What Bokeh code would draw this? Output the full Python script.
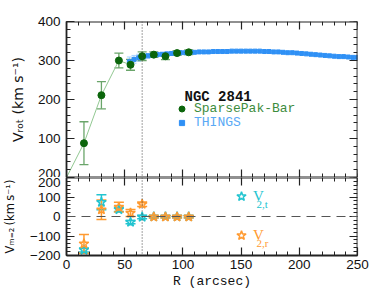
import numpy as np
from bokeh.plotting import figure
from bokeh.models import (Range1d, LinearAxis, SingleIntervalTicker, ColumnDataSource,
                          Whisker, TeeHead, Span, Label, Legend, LegendItem,
                          CustomJSTickFormatter)
from bokeh.layouts import column
from bokeh.embed import file_html
from bokeh.resources import INLINE

# ---------------- data ----------------
# SparsePak-Bar rotation curve
R_sp = [15, 30, 45, 55, 65, 75, 85, 95, 105]
V_sp = [88, 211, 300, 289, 311, 315, 311, 319, 321]
E_sp = [55, 35, 19, 14, 11, 7, 9, 6, 6]
# model line starts at the origin
R_line = [0] + R_sp
V_line = [0] + V_sp

# THINGS rotation curve
R_th = [54, 58, 62, 66, 70, 74, 78, 82, 86, 90, 94, 98, 102, 106, 110, 114, 118, 122,
        126, 130, 134, 138, 142, 146, 150, 154, 158, 162, 166, 170, 174, 178, 182, 186,
        190, 194, 198, 202, 206, 210, 214, 218, 222, 226, 230, 234, 238, 242, 246, 250]
V_th = [297, 303, 307, 310, 312, 314, 315, 316, 317, 318, 319, 320, 320, 321, 321, 322,
        322, 322, 323, 323, 323, 323, 324, 324, 324, 324, 324, 324, 324, 323, 323, 322,
        322, 321, 320, 320, 319, 318, 317, 316, 315, 314, 313, 312, 311, 310, 310, 309,
        308, 308]
E_th = [12, 10, 9, 8, 6, 5, 4, 4, 3, 3, 3, 3, 3, 3, 3, 3, 3, 3, 3, 3, 3, 3, 3, 3, 3,
        3, 3, 3, 3, 3, 3, 3, 3, 3, 3, 3, 3, 3, 3, 3, 3, 3, 3, 3, 3, 3, 3, 3, 3, 3]

# m=2 harmonic amplitudes
R_m2 = [15, 30, 45, 55, 65, 75, 85, 95, 105]
V2t = [-172, 73, 36, -29, -3, -1, -1, -1, -1]
E2t = [10, 38, 10, 8, 9, 5, 5, 5, 5]
V2r = [-140, 35, 48, 18, 63, -2, -2, -2, -2]
E2r = [48, 50, 25, 18, 12, 6, 6, 6, 6]

R_bar = 65  # dotted vertical marker

# ---------------- layout constants ----------------
FW, FHT, FHB = 291, 156, 78
ML, MR, MT, MB = 63, 20, 21, 38
X0, X1 = 0, 250
YT0, YT1 = 0, 400
YB0, YB1 = -200, 200
PX_L = ML
PY_T = MT
PY_M = PY_T + FHT
PY_B = PY_M + FHB


def rx(px):
    return X0 + (px - PX_L) * (X1 - X0) / FW


def ty(py):
    return YT1 - (py - PY_T) * (YT1 - YT0) / FHT


def by(py):
    return YB1 - (py - PY_M) * (YB1 - YB0) / FHB


AX = "#222222"
GREEN = "#0b650b"
GREEN_ERR = "#6aa56a"
GREEN_LINE = "#92c892"
GREEN_TXT = "#3d8c3d"
BLUE = "#2f90f5"
BLUE_ERR = "#a6d2ff"
BLUE_TXT = "#5aa9f5"
CYAN = "#22c4d0"
ORANGE = "#ff9a30"


def style_axis(ax, labels, interval, fixed=None):
    ax.ticker = SingleIntervalTicker(interval=interval, num_minor_ticks=5)
    ax.axis_line_color = AX
    ax.axis_line_width = 1.8
    ax.major_tick_line_color = AX
    ax.minor_tick_line_color = AX
    ax.major_tick_line_width = 1.2
    ax.minor_tick_line_width = 1
    ax.major_tick_in = 8
    ax.major_tick_out = 0
    ax.minor_tick_in = 4
    ax.minor_tick_out = 0
    if labels:
        ax.major_label_text_font = "Liberation Sans"
        ax.major_label_text_font_size = "13.5px"
        ax.major_label_text_color = "#111111"
    else:
        ax.formatter = CustomJSTickFormatter(code="return ''")
        ax.major_label_standoff = 0
    if fixed is not None:
        ax.fixed_location = fixed
    return ax


def make_fig(fh, y0, y1, mt, mb):
    p = figure(frame_width=FW, frame_height=fh, x_range=Range1d(X0, X1),
               y_range=Range1d(y0, y1), x_axis_location=None, y_axis_location=None,
               output_backend="svg", toolbar_location=None,
               min_border_left=ML, min_border_right=MR, min_border_top=mt,
               min_border_bottom=mb, outline_line_color=None,
               background_fill_color="white", border_fill_color="white")
    p.grid.visible = False
    return p


def hlabel(p, conv, px, py, text, size, color, font, style="normal"):
    p.add_layout(Label(x=rx(px), y=conv(py), text=text, text_align="left",
                       text_baseline="middle", text_font=font, text_font_size=size,
                       text_color=color, text_font_style=style))


def ytitle(ax, text, size, standoff):
    ax.axis_label = text
    ax.axis_label_text_font = "DejaVu Sans"
    ax.axis_label_text_font_size = size
    ax.axis_label_text_font_style = "normal"
    ax.axis_label_text_color = "#111111"
    ax.axis_label_standoff = standoff


# ---------------- top panel ----------------
top = make_fig(FHT, YT0, YT1, MT, 0)
axl = style_axis(LinearAxis(), True, 100)
axl.major_label_standoff = 6
axl.major_label_overrides = {0: "200"}
ytitle(axl, "V\u1d63\u2092\u209c (km s\u207b\u00b9)", "14px", 9)
top.add_layout(axl, "left")
top.add_layout(style_axis(LinearAxis(), False, 100, X1), "right")
top.add_layout(style_axis(LinearAxis(), False, 50, YT1), "above")
top.add_layout(style_axis(LinearAxis(), False, 50, YT0), "below")

top.add_layout(Span(location=R_bar, dimension="height", line_color="#444444",
                    line_dash="1 2", line_width=1))

top.line(R_line, V_line, line_color=GREEN_LINE, line_width=1)

src_th = ColumnDataSource(dict(R=R_th, V=V_th,
                               lo=np.array(V_th) - np.array(E_th),
                               up=np.array(V_th) + np.array(E_th)))
top.add_layout(Whisker(source=src_th, base="R", lower="lo", upper="up",
                       line_color=BLUE_ERR, line_width=1,
                       upper_head=TeeHead(size=5, line_color=BLUE_ERR, line_width=1),
                       lower_head=TeeHead(size=5, line_color=BLUE_ERR, line_width=1)))
r_th = top.scatter("R", "V", source=src_th, marker="square", size=4,
                   fill_color=BLUE, line_color=BLUE)

src_sp = ColumnDataSource(dict(R=R_sp, V=V_sp,
                               lo=np.array(V_sp) - np.array(E_sp),
                               up=np.array(V_sp) + np.array(E_sp)))
top.add_layout(Whisker(source=src_sp, base="R", lower="lo", upper="up",
                       line_color=GREEN_ERR, line_width=1.3,
                       upper_head=TeeHead(size=9, line_color=GREEN_ERR, line_width=1.3),
                       lower_head=TeeHead(size=9, line_color=GREEN_ERR, line_width=1.3)))
r_sp = top.scatter("R", "V", source=src_sp, marker="circle", size=7,
                   fill_color=GREEN, line_color=GREEN)

hlabel(top, ty, 181, 96, "NGC 2841", "14px", "#111111", "Liberation Mono", "bold")


def mk_legend(item_label, rend, color, x, y, gw, gh, standoff, font, size):
    return Legend(items=[LegendItem(label=item_label, renderers=[rend])],
                  location=(x, y), label_text_color=color, label_text_font=font,
                  label_text_font_size=size, glyph_width=gw, glyph_height=gh,
                  label_height=12, label_standoff=standoff, padding=0, margin=0,
                  spacing=0, border_line_alpha=0, background_fill_alpha=0)


top.add_layout(mk_legend("SparsePak-Bar", r_sp, GREEN_TXT, 108, 61, 15, 15, 5,
                         "Liberation Mono", "13px"), "center")
top.add_layout(mk_legend("THINGS", r_th, BLUE_TXT, 109, 47, 13, 13, 6,
                         "Liberation Mono", "13px"), "center")

# ---------------- bottom panel ----------------
bot = make_fig(FHB, YB0, YB1, 0, MB)
bl = style_axis(LinearAxis(), True, 100)
bl.major_label_standoff = 6
bl.major_label_overrides = {-200: "\u2212200", -100: "\u2212100"}
ytitle(bl, "V\u2098\u208c\u2082\u2009(km\u2009s\u207b\u00b9)", "11.5px", 10)
bot.add_layout(bl, "left")
bot.add_layout(style_axis(LinearAxis(), False, 100, X1), "right")
bot.add_layout(style_axis(LinearAxis(), False, 50, YB1), "above")
bx = style_axis(LinearAxis(), True, 50)
bx.major_label_standoff = 4
bx.axis_label = "R (arcsec)"
bx.axis_label_standoff = 2
bx.axis_label_text_font = "Liberation Mono"
bx.axis_label_text_font_size = "13px"
bx.axis_label_text_font_style = "normal"
bx.axis_label_text_color = "#111111"
bot.add_layout(bx, "below")

bot.add_layout(Span(location=0, dimension="width", line_color="#555555",
                    line_dash="9 6", line_width=1.2))
bot.add_layout(Span(location=R_bar, dimension="height", line_color="#444444",
                    line_dash="1 2", line_width=1))

src_t = ColumnDataSource(dict(R=R_m2, V=V2t,
                              lo=np.array(V2t) - np.array(E2t),
                              up=np.array(V2t) + np.array(E2t)))
src_r = ColumnDataSource(dict(R=R_m2, V=V2r,
                              lo=np.array(V2r) - np.array(E2r),
                              up=np.array(V2r) + np.array(E2r)))
for src, col in ((src_t, CYAN), (src_r, ORANGE)):
    bot.add_layout(Whisker(source=src, base="R", lower="lo", upper="up",
                           line_color=col, line_width=1.5,
                           upper_head=TeeHead(size=10, line_color=col, line_width=1.5),
                           lower_head=TeeHead(size=10, line_color=col, line_width=1.5)))
r_t = bot.scatter("R", "V", source=src_t, marker="star", size=10, fill_color=None,
                  line_color=CYAN, line_width=1.5)
r_r = bot.scatter("R", "V", source=src_r, marker="star", size=10, fill_color=None,
                  line_color=ORANGE, line_width=1.5)

bot.add_layout(mk_legend("V", r_t, CYAN, 163, 47, 24, 24, -6,
                         "Liberation Serif", "15px"), "center")
bot.add_layout(mk_legend("V", r_r, ORANGE, 163, 8, 24, 24, -6,
                         "Liberation Serif", "15px"), "center")
hlabel(bot, by, 253, 203, "2,t", "11px", CYAN, "Liberation Serif")
hlabel(bot, by, 253, 242, "2,r", "11px", ORANGE, "Liberation Serif")

layout = column(top, bot, spacing=0)
open("out.html", "w").write(file_html(layout, INLINE))
